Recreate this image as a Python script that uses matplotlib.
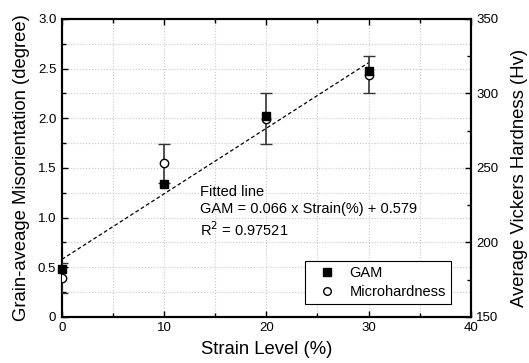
import matplotlib
matplotlib.use("Agg")
import matplotlib.pyplot as plt
import numpy as np
from matplotlib.ticker import MultipleLocator, FuncFormatter
from matplotlib.lines import Line2D

plt.rcParams['font.family'] = ['Liberation Sans', 'DejaVu Sans']

strain = [0, 10, 20, 30]
gam = [0.48, 1.34, 2.02, 2.48]
hardness = [176, 253, 283, 312.5]
hardness_err = [10, 13, 17, 12.5]
fit_slope = 0.066
fit_intercept = 0.579

fig = plt.figure(figsize=(5.29, 3.63), dpi=100)
ax = fig.add_axes([0.117, 0.127, 0.773, 0.821])
ax2 = ax.twinx()

ax.set_xlim(0, 40)
ax.set_ylim(0, 3.0)
ax2.set_ylim(150, 350)

ax.xaxis.set_major_locator(MultipleLocator(10))
ax.xaxis.set_minor_locator(MultipleLocator(5))
ax.yaxis.set_major_locator(MultipleLocator(0.5))
ax.yaxis.set_minor_locator(MultipleLocator(0.25))
ax2.yaxis.set_major_locator(MultipleLocator(50))
ax2.yaxis.set_minor_locator(MultipleLocator(25))

ax.grid(True, which='both', color='#c8c8c8', linestyle=':', linewidth=0.8)
ax.set_axisbelow(True)

xs = np.array([0, 30])
ax.plot(xs, fit_slope * xs + fit_intercept, color='black', linestyle=(0, (3, 2)), linewidth=0.9, zorder=3)

ax2.errorbar(strain, hardness, yerr=hardness_err, fmt='o', mfc='white', mec='black',
             ecolor='#333333', elinewidth=1.2, capsize=4, markersize=6, zorder=4)
ax2.plot(strain, [150 + g * 200 / 3 for g in gam], 's', color='black', markersize=6, zorder=5, clip_on=False)

ax.yaxis.set_major_formatter(FuncFormatter(lambda v, p: '0' if v == 0 else f'{v:.1f}'))

for a in (ax, ax2):
    for s in a.spines.values():
        s.set_linewidth(1.5)
ax.tick_params(which='both', direction='in', top=True, labelsize=9.5, pad=4)
ax.tick_params(which='major', length=4, width=1)
ax.tick_params(which='minor', length=3, width=1)
ax2.tick_params(which='both', direction='in', labelsize=9.5, pad=4)
ax2.tick_params(which='major', length=4, width=1)
ax2.tick_params(which='minor', length=3, width=1)

ax.set_xlabel('Strain Level (%)', fontsize=13.3, labelpad=5)
ax.set_ylabel('Grain-aveage Misorientation (degree)', fontsize=13.3, labelpad=6)
ax2.set_ylabel('Average Vickers Hardness (Hv)', fontsize=13.3)
ax2.yaxis.set_label_coords(1.098, 0.465)

ax.text(13.5, 1.26, 'Fitted line', fontsize=10.5, va='center')
ax.text(13.5, 1.085, 'GAM = 0.066 x Strain(%) + 0.579', fontsize=10.5, va='center')
ax.text(13.5, 0.88, 'R$^2$ = 0.97521', fontsize=10.5, va='center')

handles = [Line2D([], [], marker='s', color='black', linestyle='none', markersize=5.5),
           Line2D([], [], marker='o', mfc='white', mec='black', linestyle='none', markersize=5.5)]
leg = ax2.legend(handles, ['GAM', 'Microhardness'], loc='lower right',
                 bbox_to_anchor=(0.951, 0.044), borderaxespad=0, fontsize=10.5, frameon=True,
                 fancybox=False, edgecolor='black', framealpha=1, handlelength=2.4,
                 handletextpad=0.3, borderpad=0.35, labelspacing=0.3)
leg.get_frame().set_linewidth(0.8)

fig.savefig('out.png', dpi=100)
